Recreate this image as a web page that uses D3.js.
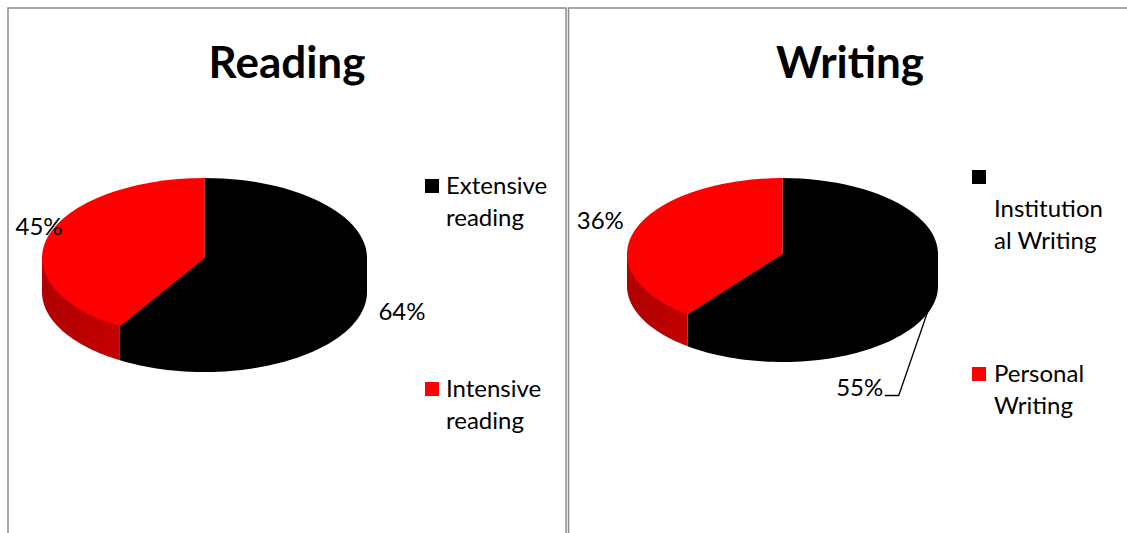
<!DOCTYPE html>
<html>
<head>
<meta charset="utf-8">
<script src="https://cdn.jsdelivr.net/npm/d3@7/dist/d3.min.js"></script>
<style>
  html, body { margin: 0; padding: 0; background: #fff; }
  svg { display: block; }
  text { font-family: Lato, "Open Sans", "DejaVu Sans", sans-serif; fill: #000; }
</style>
</head>
<body>
<svg id="chart" width="1127" height="533"></svg>
<script>
// ---- data ----
const readingTitle = "Reading";
const readingCategories = ["Extensive reading", "Intensive reading"];
const readingValues = [64, 45];
const readingLegendLines = [["Extensive", "reading"], ["Intensive", "reading"]];

const writingTitle = "Writing";
const writingCategories = ["Institutional Writing", "Personal Writing"];
const writingValues = [55, 36];
const writingLegendLines = [["", "Institution", "al Writing"], ["Personal", "Writing"]];

const sliceColors = ["#000000", "#ff0000"];
const sideColors = [["#000000", "#000000"], ["#b00000", "#dc0000"]];

// ---- layout ----
const panels = [
  {
    title: readingTitle, categories: readingCategories, values: readingValues, legend: readingLegendLines,
    box: { x: 8, y: 8, w: 558 },
    titleX: 287, titleY: 78,
    pie: { cx: 204.5, cy: 258, rx: 162.5, ry: 80, depth: 34 },
    legendX: 425, legendTextX: 446, legendY: [194, 397],
    labelOffsets: [[41, 40], [-9, -1]],
    leader: [false, false]
  },
  {
    title: writingTitle, categories: writingCategories, values: writingValues, legend: writingLegendLines,
    box: { x: 568.5, y: 8, w: 600 },
    titleX: 850, titleY: 78,
    pie: { cx: 782.5, cy: 254, rx: 155.5, ry: 76, depth: 32 },
    legendX: 972, legendTextX: 994, legendY: [185, 382],
    labelOffsets: [[-70, 118], [-35, -1]],
    leader: [true, false]
  }
];

const svg = d3.select("#chart");
const defs = svg.append("defs");
const lineH = 32;

panels.forEach((p, pi) => {
  const g = svg.append("g");

  // panel frame
  g.append("rect")
    .attr("x", p.box.x).attr("y", p.box.y)
    .attr("width", p.box.w).attr("height", 600)
    .attr("fill", "none").attr("stroke", "#8c8c8c").attr("stroke-width", 1.5);

  // title
  g.append("text")
    .attr("x", p.titleX).attr("y", p.titleY)
    .attr("text-anchor", "middle")
    .style("font-size", "44px").style("font-weight", "700")
    .text(p.title);

  // pie geometry
  const { cx, cy, rx, ry, depth } = p.pie;
  const pie = d3.pie().sort(null).value(d => d);
  const arcs = pie(p.values);
  const ex = t => cx + rx * Math.sin(t);
  const ey = t => cy - ry * Math.cos(t);

  const grads = sideColors.map((c, i) => {
    const id = `side-${pi}-${i}`;
    const lg = defs.append("linearGradient").attr("id", id)
      .attr("x1", "0%").attr("x2", "100%").attr("y1", "0%").attr("y2", "0%");
    lg.append("stop").attr("offset", "0%").attr("stop-color", c[0]);
    lg.append("stop").attr("offset", "100%").attr("stop-color", c[1]);
    return `url(#${id})`;
  });

  // side walls (front half only: angles between 90° and 270°).
  // Each wall polygon also spans the wedge up to the centre, which the
  // top face then covers, so no seam shows along the rim.
  const line = d3.line();
  arcs.forEach((a, i) => {
    const s = Math.max(a.startAngle, Math.PI / 2);
    const e = Math.min(a.endAngle, 3 * Math.PI / 2);
    if (e <= s) return;
    const ts = d3.range(0, 61).map(k => s + (e - s) * k / 60);
    const botPts = ts.slice().reverse().map(t => [ex(t), ey(t) + depth]);
    const pts = [[ex(s), ey(s)], [cx, cy], [ex(e), ey(e)]].concat(botPts);
    g.append("path")
      .attr("d", line(pts) + "Z")
      .attr("fill", grads[i]);
  });

  // top faces: circular arcs squashed into an ellipse
  const arcGen = d3.arc().innerRadius(0).outerRadius(rx);
  g.append("g")
    .attr("transform", `translate(${cx},${cy}) scale(1,${ry / rx})`)
    .selectAll("path")
    .data(arcs)
    .join("path")
    .attr("d", arcGen)
    .attr("fill", (d, i) => sliceColors[i]);

  // data labels
  arcs.forEach((a, i) => {
    const mid = (a.startAngle + a.endAngle) / 2;
    const ax = ex(mid), ay = ey(mid);
    const lx = ax + p.labelOffsets[i][0];
    const ly = ay + p.labelOffsets[i][1];
    g.append("text")
      .attr("x", lx).attr("y", ly)
      .attr("text-anchor", "middle")
      .style("font-size", "24px")
      .text(`${a.data}%`);
    if (p.leader[i]) {
      g.append("path")
        .attr("d", line([[ax, ay + depth * 0.85], [lx + 39, ly - 1], [lx + 25, ly - 1]]))
        .attr("fill", "none").attr("stroke", "#000").attr("stroke-width", 1.3);
    }
  });

  // legend
  p.categories.forEach((c, i) => {
    const y0 = p.legendY[i];
    g.append("rect")
      .attr("x", p.legendX).attr("y", y0 - 15)
      .attr("width", 14).attr("height", 14)
      .attr("fill", sliceColors[i]);
    const t = g.append("text")
      .attr("x", p.legendTextX).attr("y", y0)
      .style("font-size", "24px");
    p.legend[i].forEach((ln, k) => {
      t.append("tspan").attr("x", p.legendTextX).attr("y", y0 + k * lineH).text(ln);
    });
  });
});
</script>
</body>
</html>
